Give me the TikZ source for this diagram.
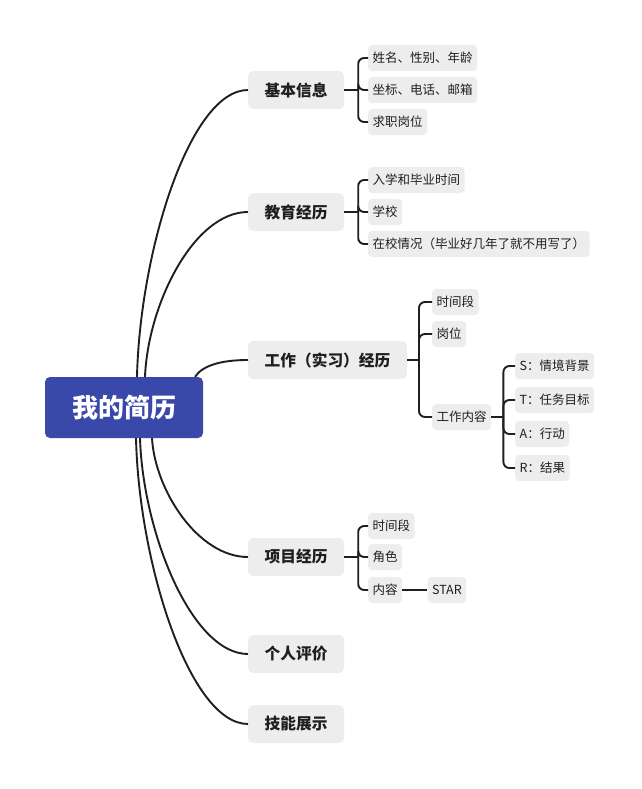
\documentclass[tikz,border=0pt]{standalone}
\usepackage{fontspec}
\setmainfont{Noto Sans CJK SC}
\usetikzlibrary{positioning,calc}

\definecolor{rootblue}{HTML}{3A48AA}
\definecolor{topicgray}{HTML}{EDEDED}
\definecolor{inkdark}{HTML}{1F1F1F}

\begin{document}
\begin{tikzpicture}[
  x=1pt, y=-1pt,
  rootbox/.style={rectangle, fill=rootblue, rounded corners=5pt,
    minimum width=158pt, minimum height=61pt,
    text=white, font=\fontsize{26}{30}\selectfont\bfseries},
  topic/.style={rectangle, fill=topicgray, rounded corners=5pt, anchor=west,
    inner xsep=16.5pt, minimum height=38pt,
    text=inkdark, font=\fontsize{15.7}{18}\selectfont\bfseries},
  leaf/.style={rectangle, fill=topicgray, rounded corners=4pt, anchor=west,
    inner xsep=4.5pt, minimum height=26pt,
    text=inkdark, font=\fontsize{12.5}{14}\selectfont},
  branch/.style={draw=inkdark, line width=1.9pt, rounded corners=6pt}
]
\useasboundingbox[fill=white] (0,0) rectangle (641,789);

\node[rootbox] (root) at (124,407.5) {我的简历};

\node[topic] (info)  at (248,90)  {基本信息};
\node[topic] (edu)   at (248,212) {教育经历};
\node[topic] (work)  at (248,360) {工作（实习）经历};
\node[topic] (proj)  at (248,557) {项目经历};
\node[topic] (eval)  at (248,654) {个人评价};
\node[topic] (skill) at (248,724) {技能展示};

% root to topics
\draw[branch] ([xshift=13pt]root.north) .. controls +(3,-126) and +(-58,0) .. (info.west);
\draw[branch] ([xshift=21pt]root.north) .. controls +(3,-73) and +(-54,0) .. (edu.west);
\draw[branch] ([xshift=71pt]root.north) .. controls +(8,-12) and +(-25,0) .. (work.west);
\draw[branch] ([xshift=28pt]root.south) .. controls +(3,52) and +(-50,0) .. (proj.west);
\draw[branch] ([xshift=16pt]root.south) .. controls +(3,95) and +(-56,0) .. (eval.west);
\draw[branch] ([xshift=12pt]root.south) .. controls +(3,126) and +(-58,0) .. (skill.west);

% basic info
\node[leaf] (b1) at (368,58)  {姓名、性别、年龄};
\node[leaf] (b2) at (368,90)  {坐标、电话、邮箱};
\node[leaf] (b3) at (368,122) {求职岗位};
\coordinate (jb) at ($(info.east)+(14,0)$);
\draw[branch] (info.east) -- (jb);
\foreach \c in {b1,b2,b3} { \draw[branch] (jb) |- (\c.west); }

% education
\node[leaf] (e1) at (368,180) {入学和毕业时间};
\node[leaf] (e2) at (368,212) {学校};
\node[leaf] (e3) at (368,244) {在校情况（毕业好几年了就不用写了）};
\coordinate (je) at ($(edu.east)+(14,0)$);
\draw[branch] (edu.east) -- (je);
\foreach \c in {e1,e2,e3} { \draw[branch] (je) |- (\c.west); }

% work
\node[leaf] (w1) at (432,302) {时间段};
\node[leaf] (w2) at (432,334) {岗位};
\node[leaf] (w3) at (432,417) {工作内容};
\coordinate (jw) at ($(work.east)+(12,0)$);
\draw[branch] (work.east) -- (jw);
\foreach \c in {w1,w2,w3} { \draw[branch] (jw) |- (\c.west); }

\node[leaf] (s1) at (515,366) {S：情境背景};
\node[leaf] (s2) at (515,400) {T：任务目标};
\node[leaf] (s3) at (515,434) {A：行动};
\node[leaf] (s4) at (515,468) {R：结果};
\coordinate (js) at ($(w3.east)+(12,0)$);
\draw[branch] (w3.east) -- (js);
\foreach \c in {s1,s2,s3,s4} { \draw[branch] (js) |- (\c.west); }

% projects
\node[leaf] (p1) at (368,526) {时间段};
\node[leaf] (p2) at (368,557) {角色};
\node[leaf] (p3) at (368,590) {内容};
\node[leaf, right=25pt of p3.east] (star) {STAR};
\coordinate (jp) at ($(proj.east)+(14,0)$);
\draw[branch] (proj.east) -- (jp);
\foreach \c in {p1,p2,p3} { \draw[branch] (jp) |- (\c.west); }
\draw[branch] (p3.east) -- (star.west);
\end{tikzpicture}
\end{document}
